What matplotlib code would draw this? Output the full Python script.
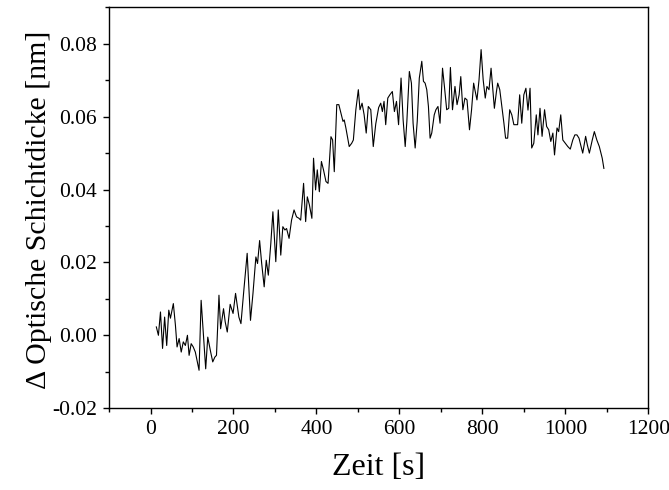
import numpy as np
import matplotlib
matplotlib.use("Agg")
import matplotlib.pyplot as plt
from matplotlib.ticker import MultipleLocator, FormatStrFormatter

# time [s] and change of optical layer thickness [nm]
zeit = [14, 19, 24, 29, 34, 39, 44, 48, 55, 60, 64, 69, 74, 79, 84, 89, 93, 98, 103, 108,
        113, 117, 122, 129, 133, 138, 145, 150, 155, 159, 165, 169, 176, 180, 185,
        192, 199, 205, 213, 218, 225, 233, 241, 247, 254, 258, 263, 268, 274, 279,
        284, 290, 295, 302, 308, 314, 319, 324, 328, 334, 340, 346, 352, 358,
        362, 369, 374, 378, 383, 389, 393, 398, 402, 407, 412, 417, 423, 428, 435,
        439, 443, 449, 454, 459, 464, 467, 471, 479, 485, 489, 495, 501, 505, 510,
        515, 520, 525, 531, 537,
        543, 550, 555, 559, 563, 567, 572, 577, 583, 588, 593, 598, 604, 609, 614,
        618, 624, 629, 633, 638, 643, 648, 654, 658, 662, 666, 670, 674, 678, 684,
        688, 693, 698, 704, 709, 714, 719, 723,
        728, 734, 739, 744, 748, 753, 758, 763, 769, 774, 779, 782, 787, 792, 797,
        802, 807, 811, 816, 821, 826, 829, 834, 837, 842, 847, 852, 856, 861, 866,
        871, 876, 880, 885, 890, 895, 900, 905, 910, 915,
        919, 924, 930, 934, 939, 944, 950, 955, 960, 965, 970, 974, 980, 984, 989,
        994, 1000, 1006, 1012, 1018, 1023, 1028, 1033, 1037, 1042, 1049, 1053, 1058,
        1065, 1070, 1076, 1082, 1089, 1093]

dicke = [0.0023, 0.0000, 0.0064, -0.0036, 0.0050, -0.0028, 0.0069, 0.0047, 0.0087, 0.0028,
         -0.0032, -0.0009, -0.0046, -0.0018, -0.0028, 0.0000, -0.0055, -0.0023, -0.0032, -0.0046,
         -0.0073, -0.0096, 0.0096, -0.0023, -0.0092, -0.0005, -0.0046, -0.0073, -0.0060, -0.0055,
         0.0110, 0.0018, 0.0073, 0.0037, 0.0009,
         0.0085, 0.0060, 0.0115, 0.0050, 0.0032, 0.0124, 0.0225, 0.0041, 0.0115, 0.0215,
         0.0197, 0.0260, 0.0197, 0.0133, 0.0206, 0.0165, 0.0252, 0.0339, 0.0202, 0.0344,
         0.0220, 0.0298, 0.0289, 0.0293, 0.0266, 0.0316, 0.0344, 0.0325, 0.0321,
         0.0316, 0.0417, 0.0312, 0.0380, 0.0358, 0.0321, 0.0486, 0.0399, 0.0454, 0.0394,
         0.0477, 0.0454, 0.0422, 0.0417, 0.0545, 0.0536, 0.0449, 0.0633, 0.0633, 0.0610,
         0.0587, 0.0591, 0.0569, 0.0518, 0.0527, 0.0536, 0.0619, 0.0674, 0.0619, 0.0637,
         0.0605, 0.0555, 0.0628, 0.0619, 0.0518,
         0.0580, 0.0625, 0.0637, 0.0614, 0.0642, 0.0578, 0.0651, 0.0660, 0.0669, 0.0614,
         0.0642, 0.0578, 0.0706, 0.0591, 0.0518, 0.0587, 0.0724, 0.0692, 0.0582, 0.0514,
         0.0587, 0.0706, 0.0752, 0.0697, 0.0692, 0.0674, 0.0628, 0.0541, 0.0555, 0.0605,
         0.0619, 0.0628, 0.0582, 0.0733, 0.0678, 0.0619, 0.0623, 0.0735,
         0.0619, 0.0683, 0.0633, 0.0660, 0.0710, 0.0619, 0.0651, 0.0646, 0.0564, 0.0619,
         0.0692, 0.0674, 0.0646, 0.0701, 0.0784, 0.0701, 0.0651, 0.0683, 0.0674, 0.0733,
         0.0665, 0.0623, 0.0669, 0.0692, 0.0674, 0.0628, 0.0582, 0.0541, 0.0541, 0.0619,
         0.0605, 0.0578, 0.0578, 0.0578, 0.0660, 0.0582, 0.0660, 0.0678, 0.0618, 0.0678,
         0.0514, 0.0527, 0.0605, 0.0550, 0.0623, 0.0546, 0.0619, 0.0573, 0.0564, 0.0532,
         0.0555, 0.0495, 0.0569, 0.0559, 0.0605, 0.0536, 0.0527, 0.0518, 0.0511, 0.0536,
         0.0550, 0.0550, 0.0541, 0.0523, 0.0500, 0.0546, 0.0523, 0.0500, 0.0536, 0.0559,
         0.0536, 0.0518, 0.0486, 0.0458]

x_ticks = [0, 200, 400, 600, 800, 1000, 1200]
y_ticks = [-0.02, 0.00, 0.02, 0.04, 0.06, 0.08]

plt.rcParams['font.family'] = ['Liberation Serif', 'DejaVu Serif']
plt.rcParams['axes.unicode_minus'] = False

fig = plt.figure(figsize=(6.69, 4.90), dpi=100)
ax = fig.add_axes([0.163, 0.167, 0.806, 0.818])

ax.plot(zeit, dicke, color='black', linewidth=0.8)

ax.set_xlim(-100, 1200)
ax.set_ylim(-0.02, 0.09)
ax.set_xticks(x_ticks)
ax.set_yticks(y_ticks)
ax.xaxis.set_minor_locator(MultipleLocator(100))
ax.yaxis.set_minor_locator(MultipleLocator(0.01))
ax.yaxis.set_major_formatter(FormatStrFormatter('%.2f'))

ax.tick_params(which='major', direction='out', length=4.5, width=1.0, labelsize=15.5, pad=4)
ax.tick_params(which='minor', direction='out', length=3, width=1.0)
for s in ax.spines.values():
    s.set_linewidth(1.0)

ax.set_xlabel("Zeit [s]", fontsize=23, labelpad=10)
ax.set_ylabel("\u0394 Optische Schichtdicke [nm]", fontsize=21.5, labelpad=2)
ax.yaxis.set_label_coords(-0.105, 0.495)

fig.savefig("out.png", dpi=100)
